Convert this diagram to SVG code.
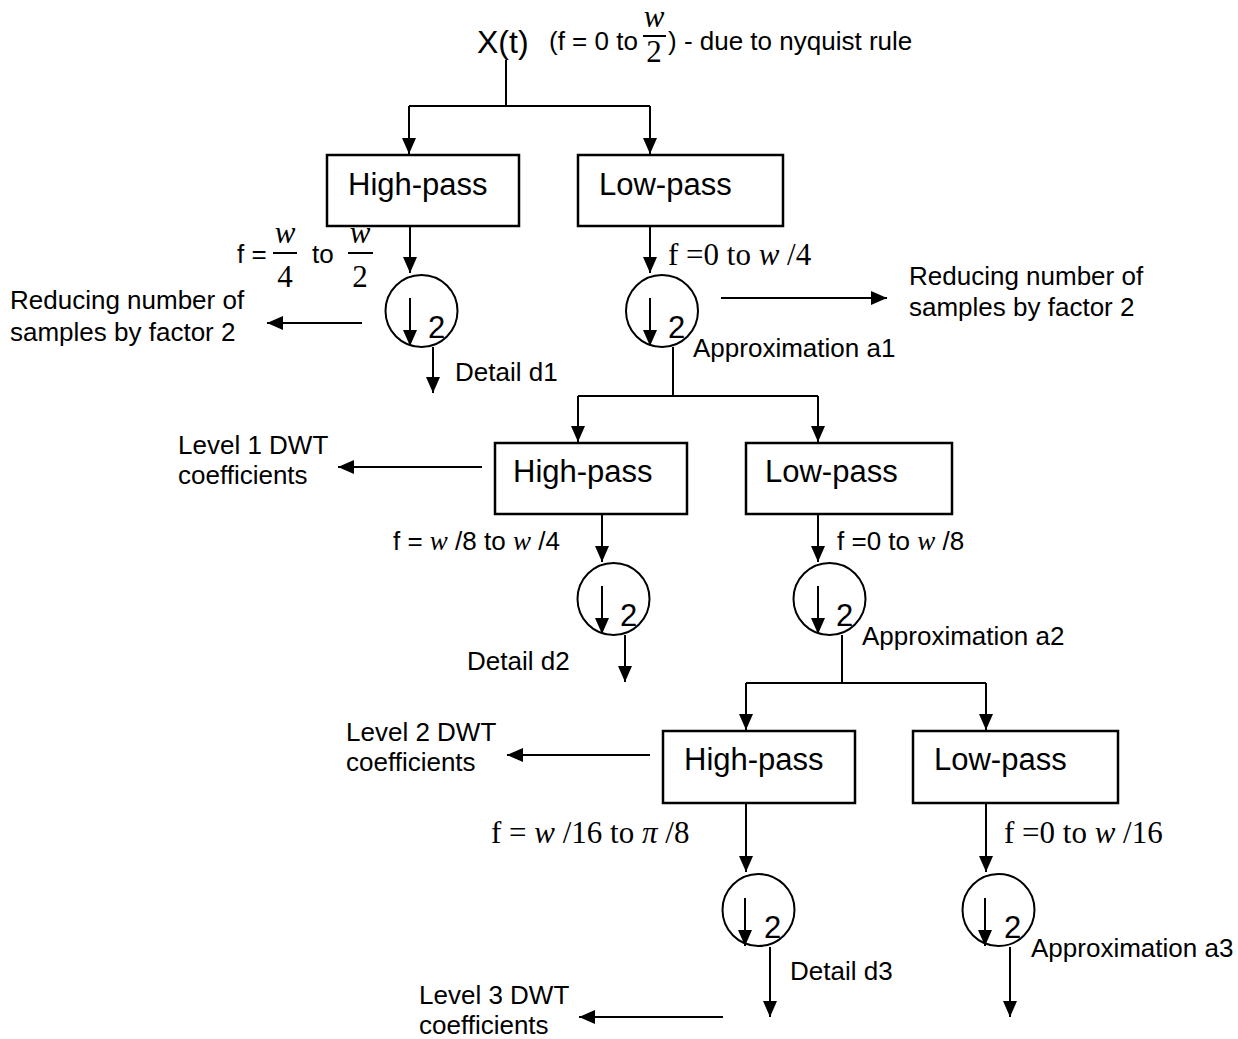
<svg xmlns="http://www.w3.org/2000/svg" width="1238" height="1039" viewBox="0 0 1238 1039">
<defs>
<marker id="ah" viewBox="0 0 16 14" refX="16" refY="7" markerWidth="16" markerHeight="14" orient="auto" markerUnits="userSpaceOnUse"><path d="M0,0 L16,7 L0,14 z" fill="#000"/></marker>
</defs>
<style>
.ln{stroke:#000;stroke-width:2;fill:none}
.ar{stroke:#000;stroke-width:2;fill:none;marker-end:url(#ah)}
.box{fill:#fff;stroke:#000;stroke-width:2.5}
.cir{fill:none;stroke:#000;stroke-width:2}
.bt{font-family:"Liberation Sans",Arial,sans-serif;font-size:31px;fill:#000}
.st{font-family:"Liberation Sans",Arial,sans-serif;font-size:26px;fill:#000}
.two{font-family:"Liberation Sans",Arial,sans-serif;font-size:31px;fill:#000}
.tm{font-family:"Liberation Serif","Times New Roman",serif;font-size:31px;fill:#000}
.it{font-style:italic}
</style>
<rect width="1238" height="1039" fill="#fff"/>

<g id="connectors">
<path class="ln" d="M506,60 V106 M409,106 H650"/>
<path class="ar" d="M409,106 V154"/>
<path class="ar" d="M650,106 V154"/>
<path class="ar" d="M410,227 V273"/>
<path class="ar" d="M650,227 V273"/>
<path class="ar" d="M433,347 V393"/>
<path class="ar" d="M362,323 H267"/>
<path class="ar" d="M721,298 H887"/>
<path class="ln" d="M673,347 V396 M578,396 H818"/>
<path class="ar" d="M578,396 V442"/>
<path class="ar" d="M818,396 V442"/>
<path class="ar" d="M482,467 H338"/>
<path class="ar" d="M602,515 V562"/>
<path class="ar" d="M818,515 V562"/>
<path class="ar" d="M625,635 V682"/>
<path class="ln" d="M842,635 V683 M746,683 H986"/>
<path class="ar" d="M746,683 V730"/>
<path class="ar" d="M986,683 V730"/>
<path class="ar" d="M650,755 H507"/>
<path class="ar" d="M746,804 V872"/>
<path class="ar" d="M986,804 V872"/>
<path class="ar" d="M770,947 V1017"/>
<path class="ar" d="M1010,947 V1017"/>
<path class="ar" d="M723,1017 H579"/>
</g>

<g id="input">
<text class="bt" x="477" y="53" style="font-size:32px">X(t)</text>
<text class="st" x="549" y="50">(f = 0 to</text>
<text class="tm it" x="654" y="27" text-anchor="middle">w</text>
<line class="ln" x1="643" y1="36" x2="666" y2="36"/>
<text class="tm" x="654" y="62" text-anchor="middle">2</text>
<text class="st" x="668" y="50">) - due to nyquist rule</text>
</g>

<g id="hp1"><rect class="box" x="327" y="155" width="192" height="71"/><text class="bt" x="348" y="195">High-pass</text></g>
<g id="lp1"><rect class="box" x="578" y="155" width="205" height="71"/><text class="bt" x="599" y="195">Low-pass</text></g>

<g id="ds1"><circle class="cir" cx="421.5" cy="311" r="36"/><path class="ar" d="M410,298 V346"/><text class="two" x="428" y="338">2</text></g>
<g id="ds2"><circle class="cir" cx="662" cy="311" r="36"/><path class="ar" d="M650,298 V346"/><text class="two" x="668" y="338">2</text></g>

<g id="labels1">
<text class="st" x="237" y="263">f =</text>
<text class="tm it" x="285" y="243" text-anchor="middle">w</text>
<line class="ln" x1="273" y1="253" x2="297" y2="253"/>
<text class="tm" x="285" y="287" text-anchor="middle">4</text>
<text class="st" x="312" y="263">to</text>
<text class="tm it" x="360" y="243" text-anchor="middle">w</text>
<line class="ln" x1="348" y1="253" x2="373" y2="253"/>
<text class="tm" x="360" y="287" text-anchor="middle">2</text>
<text class="tm" x="668" y="265">f =0 to <tspan class="it">w</tspan> /4</text>
<text class="st" x="10" y="309">Reducing number of</text>
<text class="st" x="10" y="341">samples by factor 2</text>
<text class="st" x="909" y="285">Reducing number of</text>
<text class="st" x="909" y="316">samples by factor 2</text>
<text class="st" x="455" y="381">Detail d1</text>
<text class="st" x="693" y="357">Approximation a1</text>
</g>

<g id="hp2"><rect class="box" x="495" y="443" width="192" height="71"/><text class="bt" x="513" y="482">High-pass</text></g>
<g id="lp2"><rect class="box" x="746" y="443" width="206" height="71"/><text class="bt" x="765" y="482">Low-pass</text></g>

<g id="ds3"><circle class="cir" cx="613.5" cy="599" r="36"/><path class="ar" d="M602,586 V634"/><text class="two" x="620" y="626">2</text></g>
<g id="ds4"><circle class="cir" cx="829.5" cy="599" r="36"/><path class="ar" d="M818,586 V634"/><text class="two" x="836" y="626">2</text></g>

<g id="labels2">
<text class="st" x="178" y="454">Level 1 DWT</text>
<text class="st" x="178" y="484">coefficients</text>
<text class="st" x="393" y="550">f = <tspan class="tm it" style="font-size:27px">w</tspan> /8 to <tspan class="tm it" style="font-size:27px">w</tspan> /4</text>
<text class="st" x="837" y="550">f =0 to <tspan class="tm it" style="font-size:27px">w</tspan> /8</text>
<text class="st" x="467" y="670">Detail d2</text>
<text class="st" x="862" y="645">Approximation a2</text>
</g>

<g id="hp3"><rect class="box" x="663" y="731" width="192" height="72"/><text class="bt" x="684" y="770">High-pass</text></g>
<g id="lp3"><rect class="box" x="913" y="731" width="205" height="72"/><text class="bt" x="934" y="770">Low-pass</text></g>

<g id="ds5"><circle class="cir" cx="758.5" cy="910" r="36"/><path class="ar" d="M745,898 V946"/><text class="two" x="764" y="938">2</text></g>
<g id="ds6"><circle class="cir" cx="998.5" cy="910" r="36"/><path class="ar" d="M985,898 V946"/><text class="two" x="1004" y="938">2</text></g>

<g id="labels3">
<text class="st" x="346" y="741">Level 2 DWT</text>
<text class="st" x="346" y="771">coefficients</text>
<text class="tm" x="491" y="843">f = <tspan class="it">w</tspan> /16 to <tspan class="it">π</tspan> /8</text>
<text class="tm" x="1004" y="843">f =0 to <tspan class="it">w</tspan> /16</text>
<text class="st" x="790" y="980">Detail d3</text>
<text class="st" x="1031" y="957">Approximation a3</text>
<text class="st" x="419" y="1004">Level 3 DWT</text>
<text class="st" x="419" y="1034">coefficients</text>
</g>
</svg>
